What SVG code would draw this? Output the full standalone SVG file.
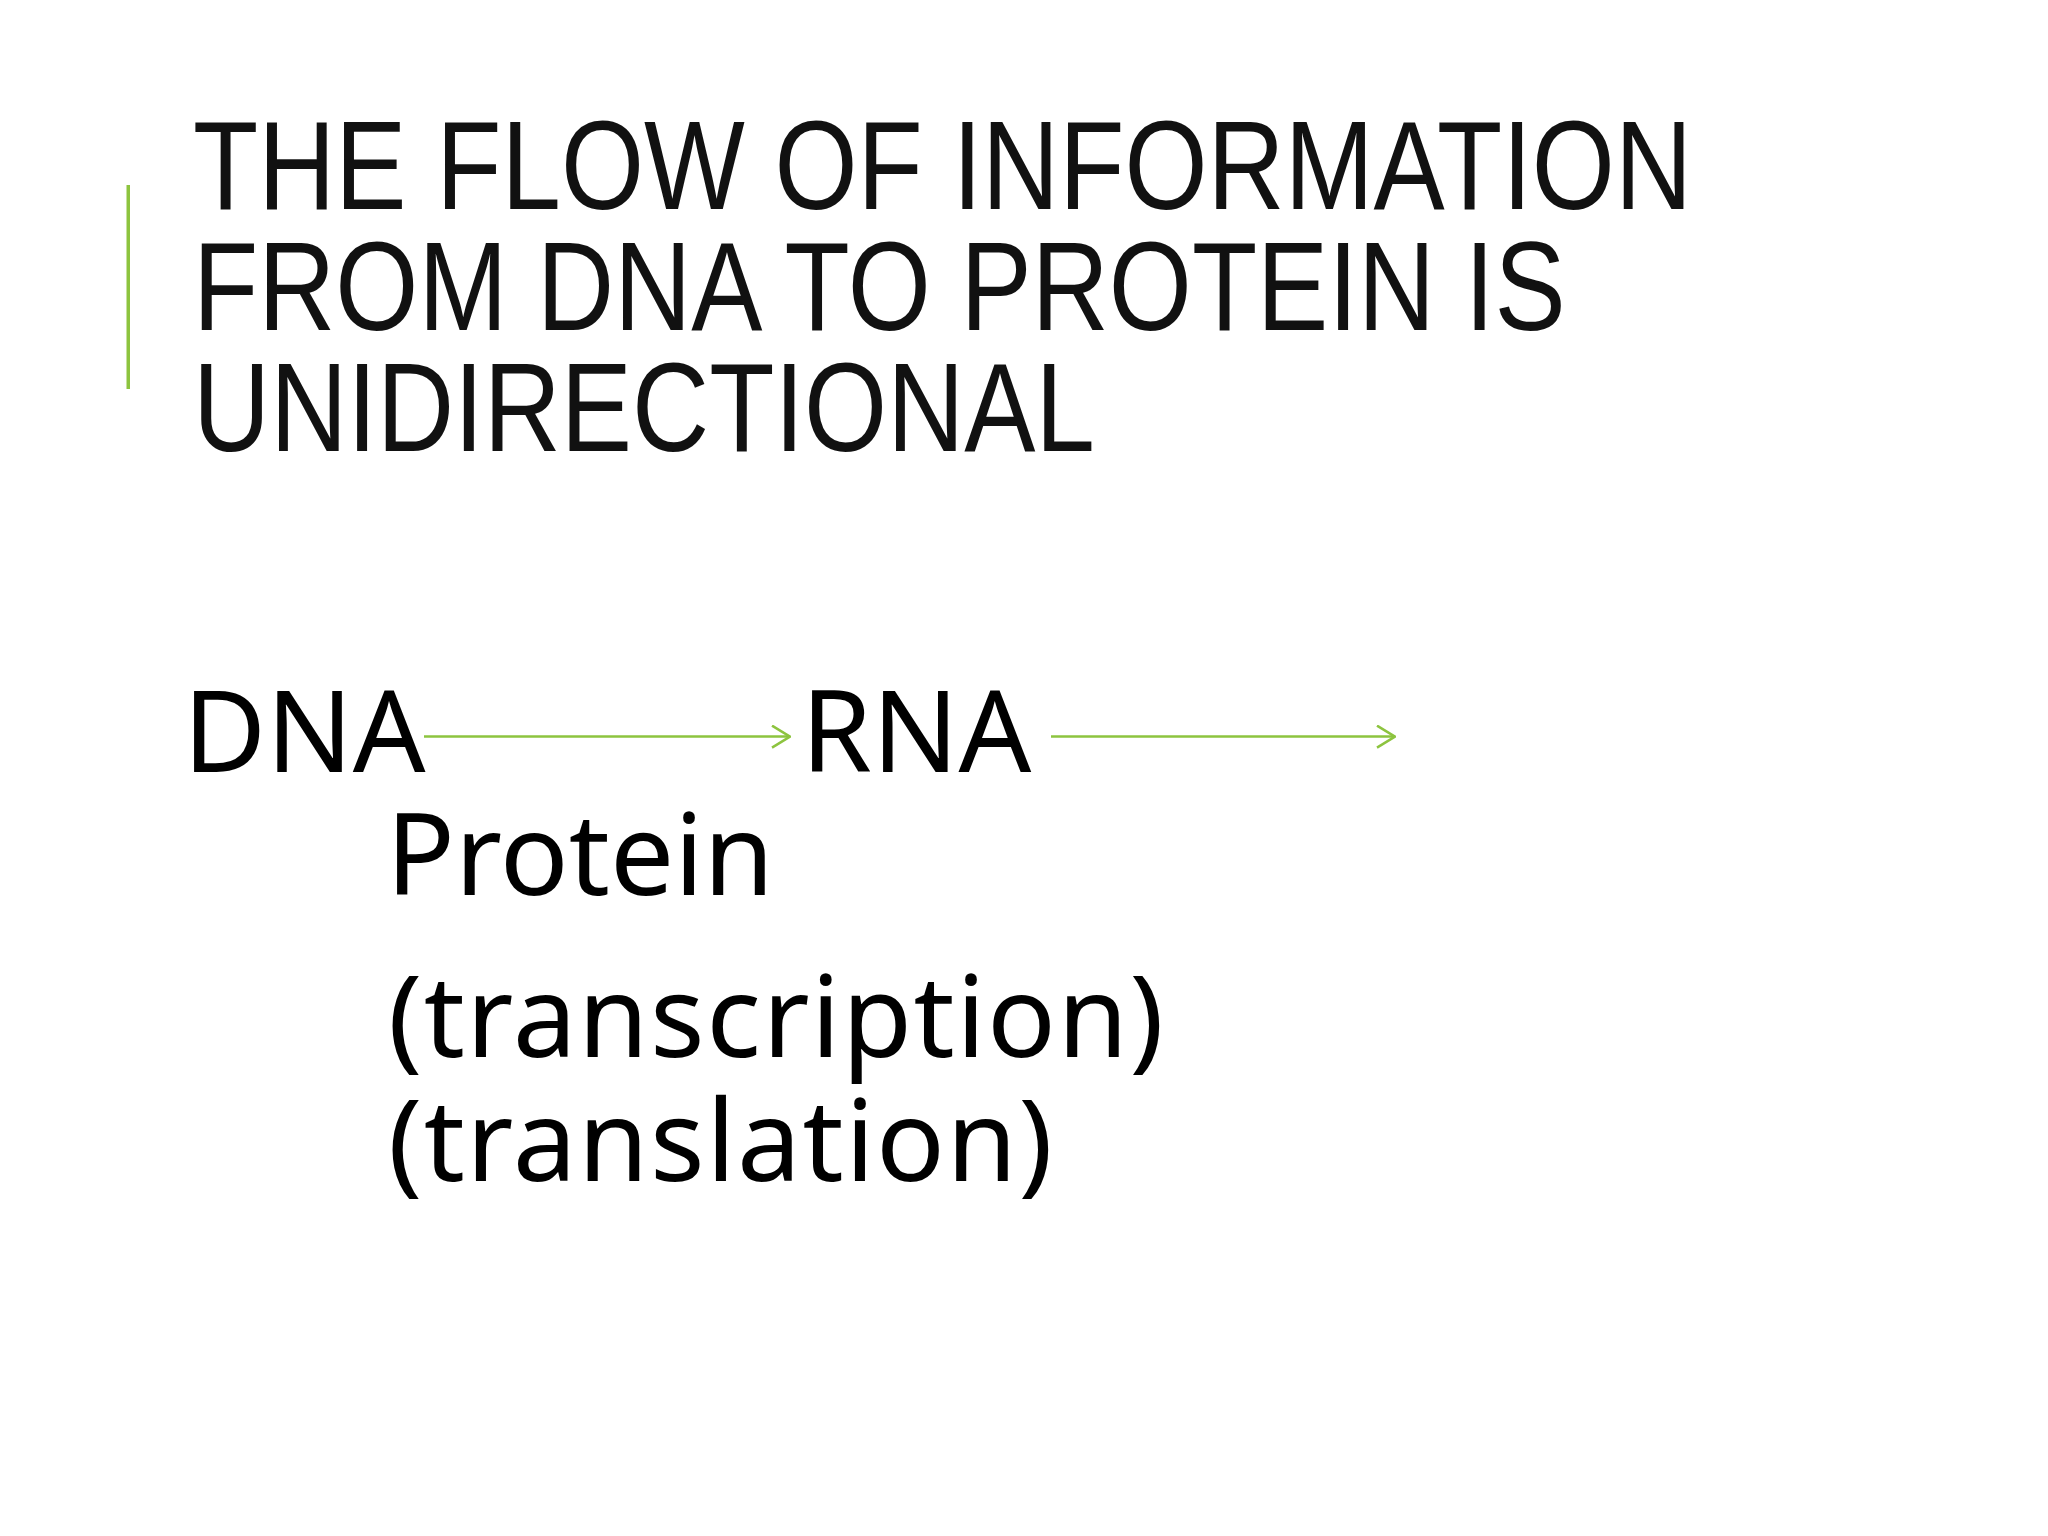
<svg xmlns="http://www.w3.org/2000/svg" width="2048" height="1536" viewBox="0 0 2048 1536">
  <style>
    .title { font-family: "Liberation Sans", Arial, sans-serif; font-size: 127px; fill: #111111; }
    .body { font-family: "Noto Sans", "DejaVu Sans", sans-serif; font-size: 114px; fill: #000000; }
    .paren { letter-spacing: 1.5px; }
    .conn { stroke: #8DC43F; stroke-width: 2.5; fill: none; }
  </style>
  <defs>
    <marker id="chev" viewBox="0 0 20 24" refX="19" refY="12" markerWidth="20" markerHeight="24" markerUnits="userSpaceOnUse" orient="auto">
      <path d="M1,1 L19,12 L1,23" fill="none" stroke="#8DC43F" stroke-width="2.5"/>
    </marker>
  </defs>
  <rect width="2048" height="1536" fill="#ffffff"/>
  <g id="accent-bar">
    <rect x="126.5" y="185" width="3.5" height="204" fill="#8DC43F"/>
  </g>
  <g id="title">
    <text class="title" transform="translate(193,209) scale(0.841,1)">THE FLOW OF INFORMATION</text>
    <text class="title" transform="translate(193,330) scale(0.841,1)">FROM DNA TO PROTEIN IS</text>
    <text class="title" transform="translate(193,451) scale(0.841,1)">UNIDIRECTIONAL</text>
  </g>
  <g id="connectors">
    <line class="conn" x1="424" y1="736.6" x2="790" y2="736.6" marker-end="url(#chev)"/>
    <line class="conn" x1="1051" y1="736.6" x2="1395" y2="736.6" marker-end="url(#chev)"/>
  </g>
  <g id="node-dna">
    <text class="body" x="183" y="772">DNA</text>
  </g>
  <g id="node-rna">
    <text class="body" x="801" y="772">RNA</text>
  </g>
  <g id="node-protein">
    <text class="body" x="386" y="895">Protein</text>
  </g>
  <g id="label-transcription">
    <text class="body paren" x="388" y="1057">(transcription)</text>
  </g>
  <g id="label-translation">
    <text class="body paren" x="388" y="1181">(translation)</text>
  </g>
</svg>
